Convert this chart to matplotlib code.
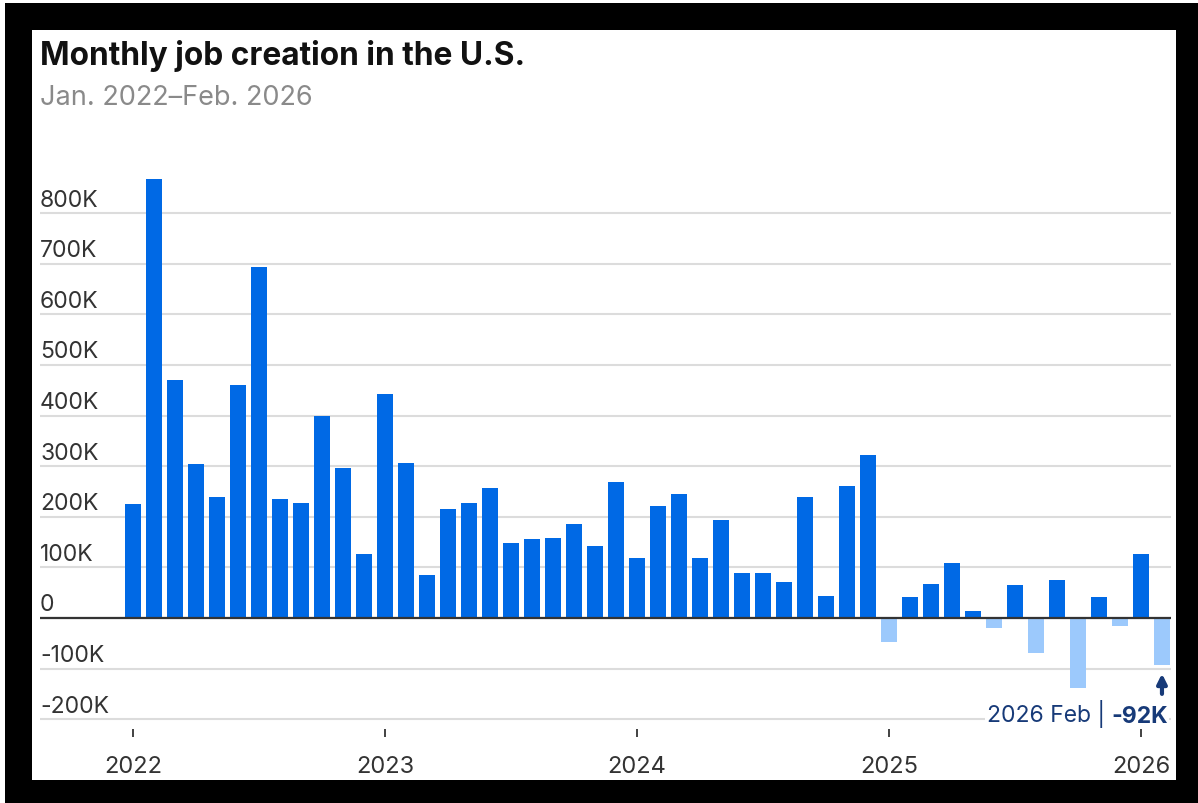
import matplotlib
matplotlib.use("Agg")
import matplotlib.pyplot as plt
from matplotlib.patches import Rectangle

# monthly change in payrolls, thousands (Jan 2022 .. Feb 2026)
job_change = [225, 867, 471, 304, 240, 460, 694, 236, 227, 400, 296, 126,
              443, 306, 85, 215, 227, 257, 148, 157, 159, 186, 142, 269,
              119, 222, 246, 118, 193, 88, 88, 71, 240, 43, 261, 323,
              -47, 42, 67, 108, 13, -19, 65, -69, 76, -138, 41, -16,
              126, -92]
year_labels = ['2022', '2023', '2024', '2025', '2026']
year_pos = [0, 12, 24, 36, 48]
y_ticks = [-200, -100, 0, 100, 200, 300, 400, 500, 600, 700, 800]
y_labels = ['-200K', '-100K', '0', '100K', '200K', '300K', '400K',
            '500K', '600K', '700K', '800K']

POS = '#0069e5'
NEG = '#9cc9fc'
NAVY = '#173a78'
W, H = 1198, 804

plt.rcParams['font.family'] = ['Inter', 'DejaVu Sans']

fig = plt.figure(figsize=(W / 100, H / 100), dpi=100, facecolor='white')
# black frame with white card inside
fig.patches.append(Rectangle((5 / W, 0), 1, 1 - 4 / H, transform=fig.transFigure,
                             facecolor='black', edgecolor='none', zorder=-10))
fig.patches.append(Rectangle((32 / W, 1 - 781 / H), (1176 - 32) / W, (781 - 31) / H,
                             transform=fig.transFigure, facecolor='white',
                             edgecolor='none', zorder=-9))

ax = fig.add_axes([40 / W, 1 - 738 / H, (1171 - 40) / W, (738 - 170) / H])
ax.set_facecolor('none')

x = list(range(len(job_change)))
colors = [POS if v >= 0 else NEG for v in job_change]
ax.bar(x, job_change, width=0.76, color=colors, zorder=3)

ax.set_xlim(-4.43, 49.43)
ax.set_ylim(-235.2, 887.4)

ax.set_yticks(y_ticks)
ax.grid(axis='y', color='#dcdcdc', lw=1.5, zorder=1)
ax.axhline(0, color='#333333', lw=1.6, zorder=4)
ax.tick_params(axis='y', left=False, labelleft=False)
for v, lab in zip(y_ticks, y_labels):
    ax.annotate(lab, xy=(0, v), xycoords=('axes fraction', 'data'),
                xytext=(0, 5.5), textcoords='offset points',
                ha='left', va='baseline', fontsize=16.5, color='#333333')

ax.set_xticks(year_pos)
ax.set_xticklabels(year_labels)
ax.tick_params(axis='x', direction='in', length=6, width=1.3, color='#333333',
               pad=13, labelsize=17, labelcolor='#333333')
for s in ax.spines.values():
    s.set_visible(False)

# callout for the latest month
last = len(job_change) - 1
ax.annotate('', xy=(last, -110), xytext=(last, -150),
            arrowprops=dict(arrowstyle='-|>', color=NAVY, lw=3,
                            mutation_scale=14, shrinkA=0, shrinkB=0), zorder=6)
val_txt = ax.text(last + 0.29, -205.5, f'{job_change[-1]}K', ha='right', va='baseline',
                  fontsize=16.5, fontweight='bold', color=NAVY, zorder=6,
                  bbox=dict(facecolor='white', edgecolor='none', pad=1))
ax.annotate('2026 Feb | ', xy=(0, 0), xycoords=val_txt, ha='right', va='bottom',
            fontsize=16.5, color=NAVY, zorder=6,
            bbox=dict(facecolor='white', edgecolor='none', pad=1.5))

fig.text(40 / W, 1 - 65 / H, 'Monthly job creation in the U.S.', ha='left',
         va='baseline', fontsize=22.8, fontweight='bold', color='#111111')
fig.text(40 / W, 1 - 105 / H, 'Jan. 2022\u2013Feb. 2026', ha='left',
         va='baseline', fontsize=19.5, color='#8a8a8a')

fig.savefig('out.png', dpi=100, facecolor=fig.get_facecolor())
